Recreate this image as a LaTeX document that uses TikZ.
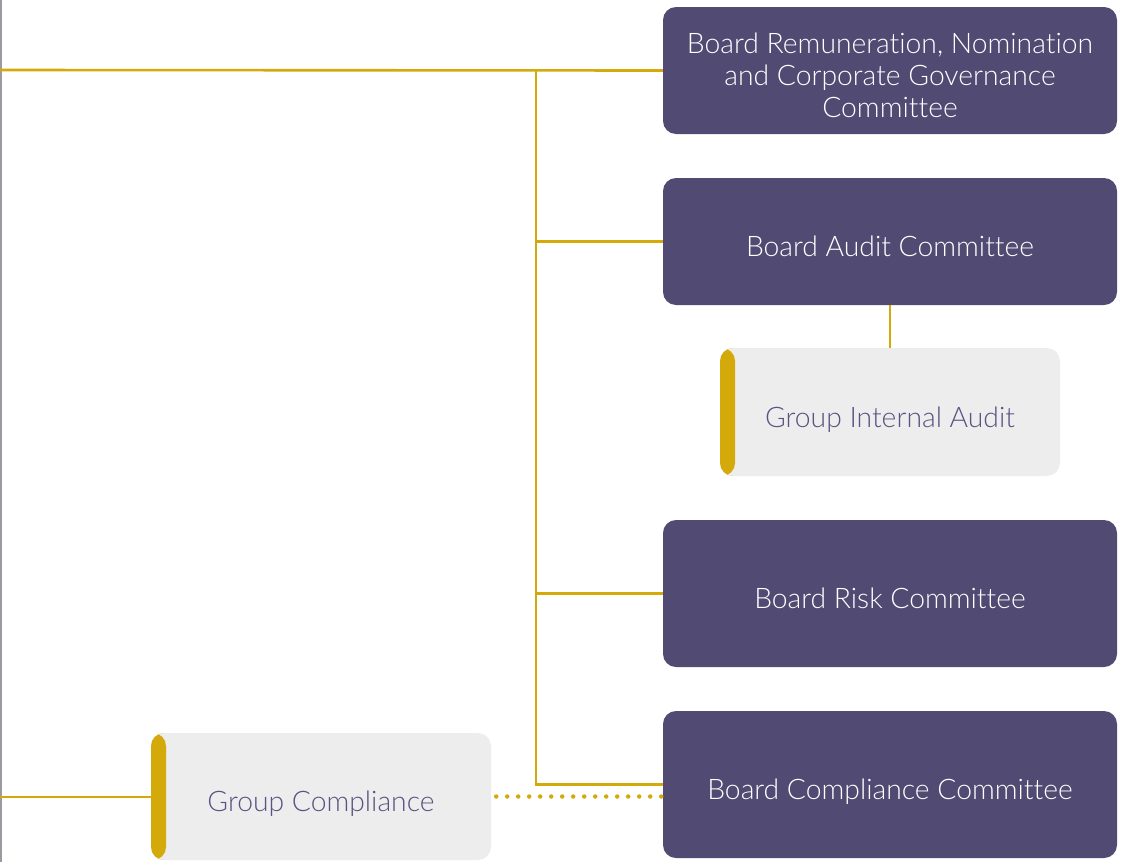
\documentclass[tikz,border=0pt]{standalone}
\usepackage{fontspec}
\setmainfont{Lato}[UprightFont=* Light,Ligatures=CommonOff]
\definecolor{purp}{HTML}{514A72}
\definecolor{gold}{HTML}{D4A90A}
\definecolor{lgray}{HTML}{EDEDED}
\definecolor{vline}{HTML}{9A9AA0}
\definecolor{ptext}{HTML}{5A5282}
\newcommand{\dn}[1]{\raisebox{-9pt}[\height][\depth]{\begin{tabular}{@{}c@{}}#1\end{tabular}}}
\begin{document}
\begin{tikzpicture}[x=1pt,y=-1pt,
  board/.style={fill=purp,draw=none,rounded corners=13pt,minimum width=454pt,inner sep=0pt,text=white,font=\fontsize{28.3}{32}\selectfont},
  unit/.style={fill=lgray,draw=none,rounded corners=13pt,minimum width=340pt,minimum height=128pt,inner sep=0pt,text=ptext,font=\fontsize{28.3}{32}\selectfont,
    path picture={\fill[gold] (path picture bounding box.south west) rectangle ([xshift=15pt]path picture bounding box.north west);}},
  link/.style={draw=gold,line width=2.6pt},
  dots/.style={draw=gold,line width=4.5pt,line cap=round,dash pattern=on 0pt off 11pt}]
\useasboundingbox (0,0) rectangle (1123,862);
\node[board,minimum height=127pt] (b1) at (890,70.5) {\dn{Board Remuneration, Nomination\\and Corporate Governance\\Committee}};
\node[board,minimum height=127pt] (b2) at (890,241.5) {\dn{Board Audit Committee}};
\node[unit] (gia) at (890,412) {\dn{Group Internal Audit}};
\node[board,minimum height=147pt] (b4) at (890,593.5) {\dn{Board Risk Committee}};
\node[board,minimum height=147pt] (b5) at (890,784.5) {\dn{Board Compliance Committee}};
\node[unit,minimum height=127pt] (gc) at (321,796.5) {\dn{Group Compliance}};
\coordinate (vt) at (1,0);
\coordinate (vb) at (1,862);
\draw[vline,line width=2pt] (vt) -- (vb);
\coordinate (L1) at (0,70);
\coordinate (T) at (536,70);
\coordinate (L2) at (0,797);
\draw[link] (L1) -- (b1.west);
\draw[link] (T) |- (b5.west);
\draw[link] (T |- b2.west) -- (b2.west);
\draw[link] (T |- b4.west) -- (b4.west);
\draw[link] (b2.south) -- (gia.north);
\draw[link] (L2) -- (L2 -| gc.west);
\draw[dots] ([xshift=5pt]gc.east) -- ([xshift=-1pt]gc.east -| b5.west);
\end{tikzpicture}
\end{document}
